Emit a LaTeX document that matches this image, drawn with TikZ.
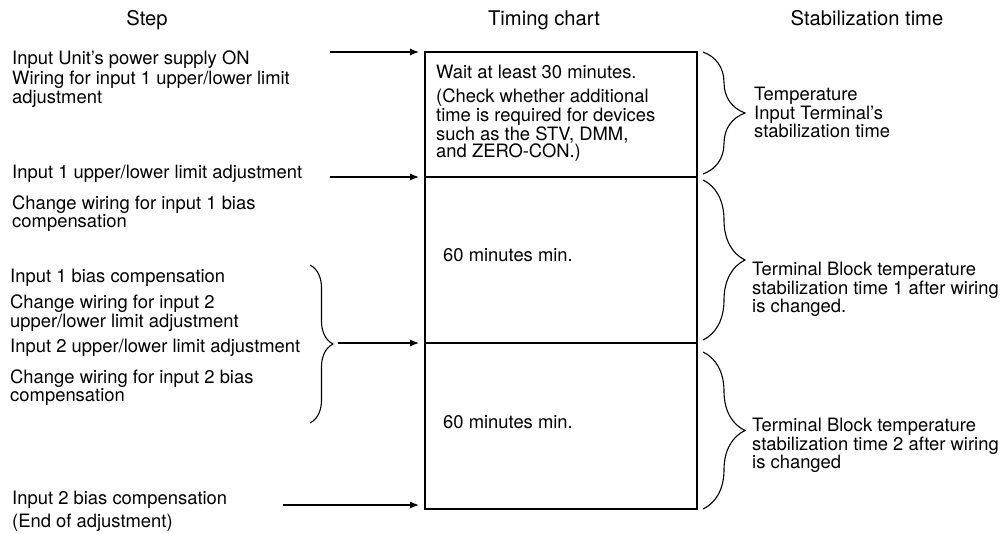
\documentclass[tikz,border=0pt]{standalone}
\usepackage{fontspec}
\setmainfont{TeX Gyre Heros}
\usetikzlibrary{decorations.pathreplacing,arrows.meta}

\begin{document}
\begin{tikzpicture}[x=1pt,y=-1pt,
    headtext/.style={anchor=base, inner sep=0pt, font=\fontsize{20.2}{22}\selectfont},
    steptext/.style={anchor=north west, inner sep=0pt, align=left, font=\fontsize{18.4}{15.5}\selectfont},
    section/.style={draw=black, line width=1.3pt, anchor=north west, inner sep=0pt, outer sep=0pt, minimum width=272pt},
    steparrow/.style={draw=black, line width=1.2pt, -{Latex[length=9pt,width=7pt]}},
    bracestyle/.style={draw=black, line width=1.1pt, decorate, decoration={brace, amplitude=42pt}}]
                \useasboundingbox (0,0) rectangle (1004,533);
                %%% Column headings
                \node[headtext] (hstep) at (147,25) {Step};
                \node[headtext] (hchart) at (544,25) {Timing chart};
                \node[headtext] (hstab) at (867,25) {Stabilization time};
                %%% Timing chart: three stacked sections
                \node[section, minimum height=125pt] (sec1) at (425,52) {};
                \node[section, minimum height=166pt] (sec2) at (425,177) {};
                \node[section, minimum height=166pt] (sec3) at (425,343) {};
                \node[steptext] (wait) at (436,65) {Wait at least 30 minutes.};
                \node[steptext, font=\fontsize{18.4}{16}\selectfont] (check) at (436,89) {(Check whether additional\\time is required for devices\\such as the STV, DMM,\\and ZERO-CON.)};
                \node[steptext] (min1) at (443,248) {60 minutes min.};
                \node[steptext] (min2) at (443,415) {60 minutes min.};
                %%% Steps on the left
                \node[steptext] (s1) at (12,51) {Input Unit's power supply ON};
                \node[steptext] (s2) at (12,71) {Wiring for input 1 upper/lower limit\\adjustment};
                \node[steptext] (s3) at (12,165) {Input 1 upper/lower limit adjustment};
                \node[steptext] (s4) at (12,196) {Change wiring for input 1 bias\\compensation};
                \node[steptext] (s5) at (10,269) {Input 1 bias compensation};
                \node[steptext] (s6) at (10,295) {Change wiring for input 2\\upper/lower limit adjustment};
                \node[steptext] (s7) at (10,339) {Input 2 upper/lower limit adjustment};
                \node[steptext] (s8) at (10,370) {Change wiring for input 2 bias\\compensation};
                \node[steptext] (s9) at (12,491) {Input 2 bias compensation};
                \node[steptext] (s10) at (12,514) {(End of adjustment)};
                %%% Brace grouping steps 5 to 8
                \coordinate (lbtop) at (310,265);
                \coordinate (lbbot) at (310,423);
                \draw[bracestyle, decoration={brace, amplitude=23pt}] (lbtop) -- (lbbot);
                %%% Arrows into the chart
                \coordinate (a1) at (330,52);
                \coordinate (a2) at (330,177);
                \coordinate (a3) at (338,343);
                \coordinate (a4) at (283,505);
                \draw[steparrow] (a1) -- ([xshift=-6pt]sec1.north west);
                \draw[steparrow] (a2) -- ([xshift=-6pt]sec1.south west);
                \draw[steparrow] (a3) -- ([xshift=-6pt]sec2.south west);
                \draw[steparrow] (a4) -- ([xshift=-6pt,yshift=4pt]sec3.south west);
                %%% Braces for stabilization times
                \draw[bracestyle] ([xshift=6pt]sec1.north east) -- ([xshift=6pt,yshift=3pt]sec1.south east);
                \draw[bracestyle] ([xshift=6pt,yshift=-3pt]sec2.north east) -- ([xshift=6pt,yshift=3pt]sec2.south east);
                \draw[bracestyle] ([xshift=6pt,yshift=-9pt]sec3.north east) -- ([xshift=6pt]sec3.south east);
                \node[steptext] (t1) at (754,87) {Temperature\\Input Terminal's\\stabilization time};
                \node[steptext] (t2) at (752,262) {Terminal Block temperature\\stabilization time 1 after wiring\\is changed.};
                \node[steptext] (t3) at (752,418) {Terminal Block temperature\\stabilization time 2 after wiring\\is changed};
                \end{tikzpicture}
\end{document}
